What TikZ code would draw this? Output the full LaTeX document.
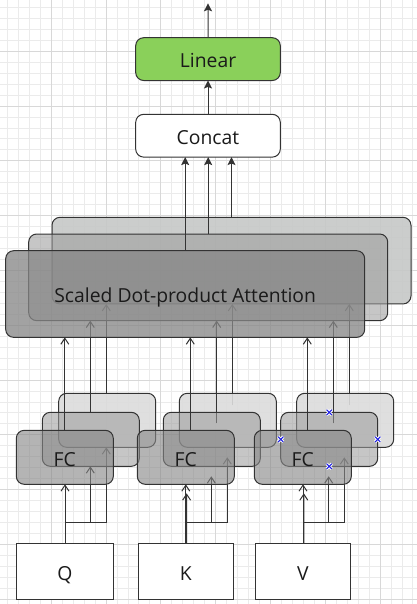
\documentclass[tikz,border=0pt]{standalone}
\usepackage{fontspec}
\setmainfont{Open Sans}
\usetikzlibrary{arrows.meta,calc}
\definecolor{linec}{HTML}{333333}
\definecolor{txt}{HTML}{1A1A1A}
\definecolor{gridminor}{HTML}{EBEBEB}
\definecolor{gridmajor}{HTML}{D8D8D8}
\definecolor{lingreen}{RGB}{138,208,90}
\definecolor{attbackc}{RGB}{198,200,199}
\definecolor{midc}{RGB}{156,156,156}
\definecolor{frontc}{RGB}{134,134,134}
\definecolor{fcbackc}{RGB}{220,220,220}
\definecolor{markblue}{RGB}{30,30,230}
\pgfdeclarelayer{grid}
\pgfdeclarelayer{lineA}
\pgfdeclarelayer{boxA}
\pgfdeclarelayer{lineB}
\pgfdeclarelayer{boxB}
\pgfdeclarelayer{lineC}
\pgfdeclarelayer{boxC}
\pgfsetlayers{grid,lineA,boxA,lineB,boxB,lineC,boxC,main}
\tikzset{
  box/.style={draw=linec, line width=0.75pt, rounded corners=6pt, inner sep=0pt, outer sep=0pt,
    anchor=north west, text=txt, text opacity=1, font=\fontsize{14.5}{16}\selectfont,
    text height=13.2pt, text depth=0pt},
  inbox/.style={box, sharp corners, fill=white},
  attsize/.style={minimum width=269.25pt, minimum height=65pt},
  fcsize/.style={minimum width=72.75pt, minimum height=40.5pt},
  topsize/.style={minimum width=108.45pt, minimum height=32.1pt},
  openarr/.style={draw=linec, line width=0.75pt, -{Straight Barb[length=4.5pt,width=6pt]}},
  fillarr/.style={draw=linec, line width=0.75pt, -{Stealth[length=6pt,width=6pt,inset=1.2pt]}},
  backfill/.style={fill=#1, fill opacity=0.9},
  midfill/.style={fill=midc, fill opacity=0.57},
  frontatt/.style={fill=frontc, fill opacity=0.76},
  frontfc/.style={fill=frontc, fill opacity=0.62},
  markx/.style={line width=0.8pt, markblue},
  markhalo/.style={line width=2.2pt, white},
}
\begin{document}
\begin{tikzpicture}[x=0.75pt,y=-0.75pt]
\useasboundingbox (0,0) rectangle (417,604);
\begin{pgfonlayer}{grid}
  \fill[white] (0,0) rectangle (417,604);
  \foreach \k in {0,...,37} {\pgfmathsetmacro{\g}{7.45+10.96*\k}
    \draw[gridminor, line width=0.75pt] (\g,0) -- (\g,604);}
  \foreach \k in {0,...,54} {\pgfmathsetmacro{\g}{7.45+10.96*\k}
    \draw[gridminor, line width=0.75pt] (0,\g) -- (417,\g);}
  \foreach \k in {0,...,6} {\pgfmathsetmacro{\g}{51.29+54.8*\k}
    \draw[gridmajor, line width=0.75pt] (\g,0) -- (\g,604);}
  \foreach \k in {0,...,10} {\pgfmathsetmacro{\g}{51.29+54.8*\k}
    \draw[gridmajor, line width=0.75pt] (0,\g) -- (417,\g);}
\end{pgfonlayer}

% ---- boxes ----
\begin{pgfonlayer}{boxA}
  \node[box, attsize, backfill=attbackc] (attB) at (52,217.3) {};
  \node[box, fcsize, backfill=fcbackc] (fcQb) at (58.7,393.3) {};
  \node[box, fcsize, backfill=fcbackc] (fcKb) at (179.3,393.3) {};
  \node[box, fcsize, backfill=fcbackc] (fcVb) at (296.7,393.3) {};
\end{pgfonlayer}
\begin{pgfonlayer}{boxB}
  \node[box, attsize, midfill] (attM) at (28.7,234) {};
  \node[box, fcsize, midfill] (fcQm) at (42.3,412.3) {};
  \node[box, fcsize, midfill] (fcKm) at (163.3,412.3) {};
  \node[box, fcsize, midfill] (fcVm) at (280.7,412.3) {};
\end{pgfonlayer}
\begin{pgfonlayer}{boxC}
  \node[box, attsize, frontatt] (attF) at (5.7,250.7) {Scaled Dot-product Attention};
  \node[box, fcsize, frontfc] (fcQf) at (16.3,430.3) {FC};
  \node[box, fcsize, frontfc] (fcKf) at (137.3,430.3) {FC};
  \node[box, fcsize, frontfc] (fcVf) at (254.3,430.3) {FC};
\end{pgfonlayer}
\node[inbox, minimum width=73.05pt, minimum height=42.5pt] (Q) at (16.3,543.3) {Q};
\node[inbox, minimum width=71.25pt, minimum height=42.5pt] (K) at (138.3,543.3) {K};
\node[inbox, minimum width=70.95pt, minimum height=42.5pt] (V) at (255.7,543.3) {V};
\node[box, topsize, fill=white] (concat) at (135.7,114.3) {Concat};
\node[box, topsize, fill=lingreen] (linear) at (135.7,37.7) {Linear};
\coordinate (out) at (208,3.3);

% branch points (lower) and x positions (upper)
\coordinate (bq2) at (90.3,522.3);  \coordinate (bq3) at (106.3,522.3);
\coordinate (bk2) at (211.3,522.3); \coordinate (bk3) at (227.3,522.3);
\coordinate (bv2) at (328.7,522.3); \coordinate (bv3) at (344.3,522.3);
\coordinate (uq1) at (64.8,0);  \coordinate (uq2) at (90.3,0);  \coordinate (uq3) at (106.3,0);
\coordinate (uk1) at (190.3,0); \coordinate (uk2) at (216.7,0); \coordinate (uk3) at (232.3,0);
\coordinate (uv1) at (307.3,0); \coordinate (uv2) at (333.3,0); \coordinate (uv3) at (349.3,0);

% ---- connectors to back boxes ----
\begin{pgfonlayer}{lineA}
  \draw[openarr] (Q.north) |- (bq3) -- (fcQb.south -| bq3);
  \draw[openarr] (K.north) |- (bk3) -- ($(fcKb.south -| bk3)+(0,10)$);
  \draw[openarr] (V.north) |- (bv3) -- ($(fcVb.south -| bv3)+(0,10)$);
  \draw[openarr] (fcQb.north -| uq3) -- (attB.south -| uq3);
  \draw[openarr] ($(fcKb.north -| uk3)+(0,12)$) -- (attB.south -| uk3);
  \draw[openarr] ($(fcVb.north -| uv3)+(0,12)$) -- (attB.south -| uv3);
\end{pgfonlayer}
% ---- connectors to middle boxes ----
\begin{pgfonlayer}{lineB}
  \draw[openarr] (Q.north) |- (bq2) -- (fcQm.south -| bq2);
  \draw[openarr] (K.north) |- (bk2) -- ($(fcKm.south -| bk2)+(0,10)$);
  \draw[openarr] (V.north) |- (bv2) -- ($(fcVm.south -| bv2)+(0,10)$);
  \draw[openarr] (fcQm.north -| uq2) -- (attM.south -| uq2);
  \draw[openarr] ($(fcKm.north -| uk2)+(0,11)$) -- (attM.south -| uk2);
  \draw[openarr] ($(fcVm.north -| uv2)+(0,11)$) -- (attM.south -| uv2);
\end{pgfonlayer}
% ---- connectors to front boxes ----
\begin{pgfonlayer}{lineC}
  \draw[openarr] (Q.north) -- (Q.north |- fcQf.south);
  \draw[openarr] (K.north) -- (K.north |- fcKf.south);
  \draw[openarr] ([xshift=0.6pt]K.north) -- ($(K.north |- fcKf.south)+(0.8,9)$);
  \draw[openarr] (V.north) -- (V.north |- fcVf.south);
  \draw[openarr] ([xshift=0.6pt]V.north) -- ($(V.north |- fcVf.south)+(0.8,9)$);
  \draw[openarr] (fcQf.north -| uq1) -- (attF.south -| uq1);
  \draw[openarr] (fcKf.north -| uk1) -- (attF.south -| uk1);
  \draw[openarr] (fcVf.north -| uv1) -- (attF.south -| uv1);
\end{pgfonlayer}

% ---- top connectors ----
\draw[fillarr] (attF.north) -- (concat.south -| attF.north);
\draw[fillarr] (attM.north) -- (concat.south -| attM.north);
\draw[fillarr] (attB.north) -- (concat.south -| attB.north);
\draw[fillarr] (concat.north) -- (linear.south);
\draw[fillarr] (linear.north) -- (out);

% ---- selection marks ----
\foreach \a in {west,north,east,south} {
  \draw[markhalo] (fcVm.\a) +(-2.6,-2.6) -- +(2.6,2.6) +(-2.6,2.6) -- +(2.6,-2.6);
  \draw[markx] (fcVm.\a) +(-2.6,-2.6) -- +(2.6,2.6) +(-2.6,2.6) -- +(2.6,-2.6);
}
\end{tikzpicture}
\end{document}
